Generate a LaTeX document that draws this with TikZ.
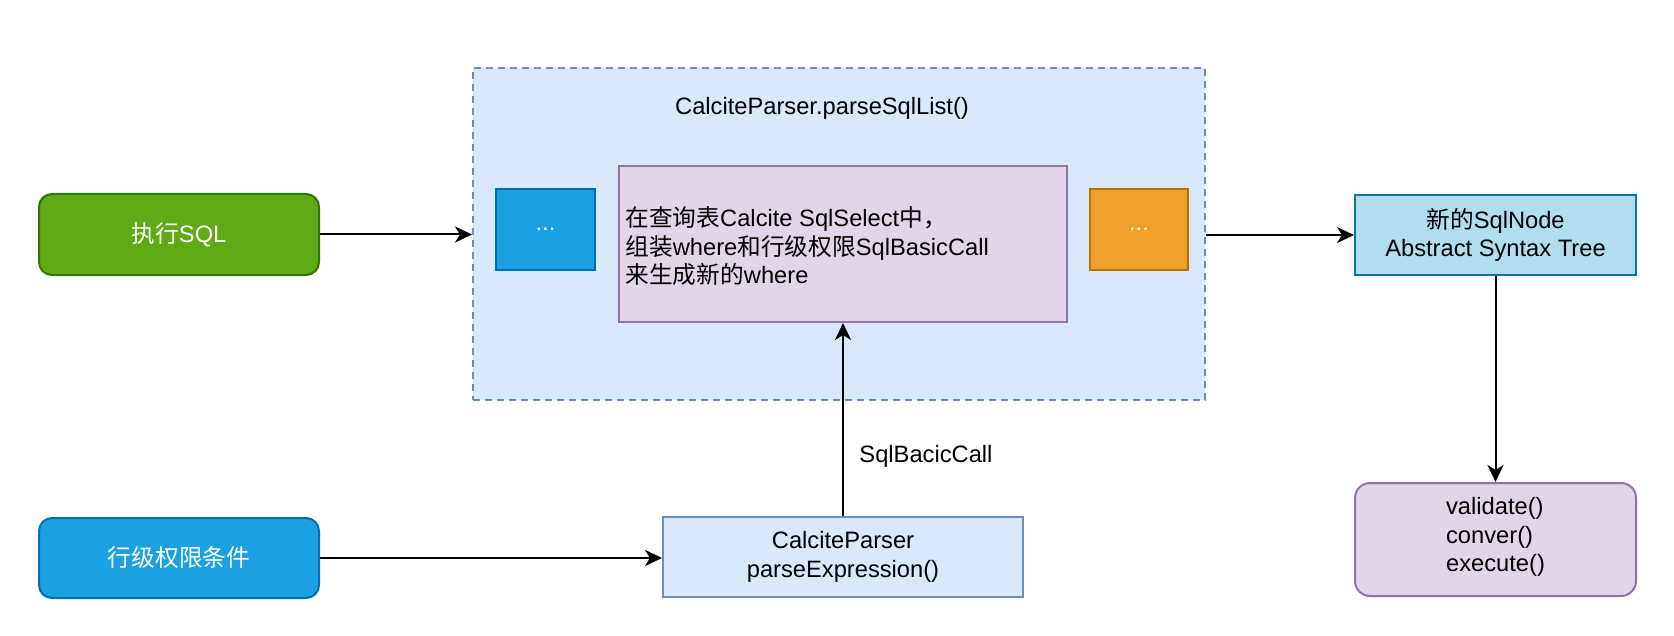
\documentclass[tikz,border=0pt]{standalone}
\usepackage{fontspec}
\setmainfont{Liberation Sans}
\newfontfamily\cjk{Noto Sans CJK SC}
\usetikzlibrary{arrows.meta}
\definecolor{grfill}{HTML}{60A917}
\definecolor{grline}{HTML}{2D7600}
\definecolor{blfill}{HTML}{1BA1E2}
\definecolor{blline}{HTML}{006EAF}
\definecolor{ctfill}{HTML}{DAE8FC}
\definecolor{ctline}{HTML}{6C8EBF}
\definecolor{pufill}{HTML}{E1D5E7}
\definecolor{puline}{HTML}{9673A6}
\definecolor{orfill}{HTML}{EFA22B}
\definecolor{orline}{HTML}{BD7000}
\definecolor{skfill}{HTML}{B1DDF0}
\definecolor{skline}{HTML}{10739E}
\begin{document}
\begin{tikzpicture}[x=0.5pt,y=-0.5pt,
  font=\fontsize{11.85}{14.25}\selectfont,
  box/.style={draw, line width=1pt, inner sep=0pt, align=center},
  arr/.style={line width=1pt, -{Stealth[length=8.5pt,width=8pt,inset=2.5pt]}},
  txt/.style={inner sep=0pt}]
\useasboundingbox (0,0) rectangle (1674,636);

% container
\node[box, dashed, dash pattern=on 3.5pt off 2.5pt, fill=ctfill, draw=ctline,
      minimum width=366pt, minimum height=166pt] (cont) at (839,234) {};
\node[txt] (title) at (822,108) {CalciteParser.parseSqlList()};

% inside container
\node[box, fill=blfill, draw=blline, text=white, minimum width=49.5pt, minimum height=40.5pt] (dots1) at (545.5,229.5) {...};
\node[box, fill=pufill, draw=puline, minimum width=224pt, minimum height=78pt] (inner) at (843,244) {};
\node[txt, anchor=west, align=left] (innertext) at (625,246.5)
  {{\cjk 在查询表}Calcite SqlSelect{\cjk 中，}\\{\cjk 组装}where{\cjk 和行级权限}SqlBasicCall\\{\cjk 来生成新的}where};
\node[box, fill=orfill, draw=orline, text=white, minimum width=49pt, minimum height=40.5pt] (dots2) at (1139,229.5) {...};

% left boxes
\node[box, rounded corners=6.5pt, fill=grfill, draw=grline, text=white,
      minimum width=140pt, minimum height=40.5pt] (exec) at (179,234.5) {{\cjk 执行}SQL};
\node[box, rounded corners=6.5pt, fill=blfill, draw=blline, text=white,
      minimum width=140pt, minimum height=40pt] (cond) at (179,558) {{\cjk 行级权限条件}};

% parser
\node[box, fill=ctfill, draw=ctline, minimum width=180pt, minimum height=40pt] (cparser) at (843,557)
  {CalciteParser\\parseExpression()};

% right boxes
\node[box, fill=skfill, draw=skline, minimum width=140.5pt, minimum height=40pt] (ast) at (1495.5,235)
  {{\cjk 新的}SqlNode\\Abstract Syntax Tree};
\node[box, rounded corners=7.5pt, fill=pufill, draw=puline, minimum width=140.5pt, minimum height=56.5pt] (final) at (1495.5,539.5) {};
\node[txt, align=left] (finaltext) at (1495.5,537) {validate()\\conver()\\execute()};

% connectors
\draw[arr] (exec.east) -- (exec.east -| cont.west);
\draw[arr] (ast.west -| cont.east) -- (ast.west);
\draw[arr] (ast.south) -- (final.north);
\draw[arr] (cond.east) -- (cond.east -| cparser.west);
\draw[arr] (cparser.north) -- (inner.south);
\node[txt] (lbl) at (926,456) {SqlBacicCall};
\end{tikzpicture}
\end{document}
